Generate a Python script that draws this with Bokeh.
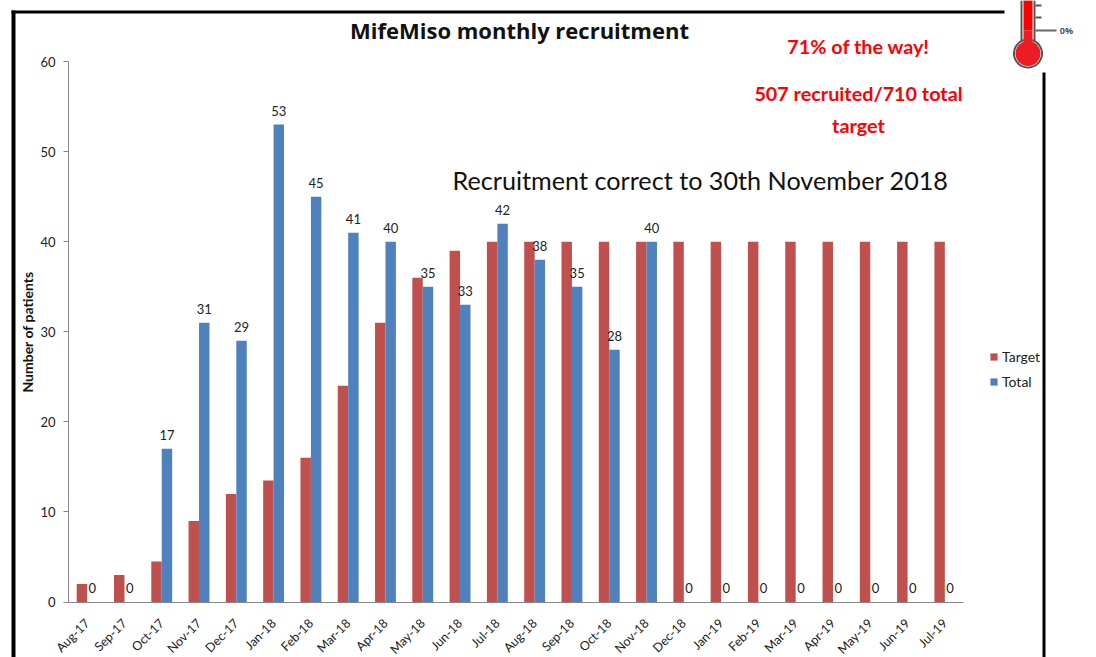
import numpy as np
from bokeh.plotting import figure
from bokeh.embed import file_html
from bokeh.resources import INLINE
from bokeh.models import (ColumnDataSource, Label, BoxAnnotation, PolyAnnotation, Legend, LegendItem,
                          LinearAxis, FixedTicker, Range1d)
from bokeh.core.properties import value

months = ["Aug-17","Sep-17","Oct-17","Nov-17","Dec-17","Jan-18","Feb-18","Mar-18","Apr-18","May-18","Jun-18","Jul-18",
          "Aug-18","Sep-18","Oct-18","Nov-18","Dec-18","Jan-19","Feb-19","Mar-19","Apr-19","May-19","Jun-19","Jul-19"]
target = [2,3,4.5,9,12,13.5,16,24,31,36,39,40,40,40,40,40,40,40,40,40,40,40,40,40]
total = [0,0,17,31,29,53,45,41,40,35,33,42,38,35,28,40,0,0,0,0,0,0,0,0]
y_ticks = [0, 10, 20, 30, 40, 50, 60]

W, H = 1096, 657
AX_L, AX_R, AX_T, AX_B = 68.0, 963.0, 61.0, 601.5
xs = (AX_R - AX_L) / len(months)
ys = (AX_B - AX_T) / 60.0
x_start = -AX_L / xs - 0.5
x_end = (W - AX_L) / xs - 0.5
y_start = (AX_B - H) / ys
y_end = AX_B / ys

idx = list(range(len(months)))
w = 0.28
src = ColumnDataSource(dict(x1=[i - w/2 for i in idx], x2=[i + w/2 for i in idx], target=target, total=total,
                            lab=[str(v) for v in total]))

p = figure(width=W, height=H, output_backend="svg", toolbar_location=None,
           x_range=Range1d(x_start, x_end), y_range=Range1d(y_start, y_end),
           x_axis_location=None, y_axis_location=None,
           min_border=0, outline_line_color=None, background_fill_color="white")
p.xgrid.visible = False
p.ygrid.visible = False

r1 = p.vbar(x="x1", top="target", width=w, source=src, color="#C0504D", line_color=None)
r2 = p.vbar(x="x2", top="total", width=w, source=src, color="#4F81BD", line_color=None)
p.text(x="x2", y="total", text="lab", source=src, y_offset=-9,
       text_align="center", text_baseline="bottom", text_font=value("Lato"), text_font_size="13px", text_color="#222222")

ax = LinearAxis(fixed_location=0, ticker=FixedTicker(ticks=idx),
                major_label_overrides={i: m for i, m in enumerate(months)},
                bounds=(-0.5, len(months) - 0.5))
ax.major_tick_line_color = None
ax.minor_tick_line_color = None
ax.axis_line_color = "#868686"
ax.major_label_orientation = np.pi / 4
ax.major_label_text_font = "Lato"
ax.major_label_text_font_size = "12.5px"
ax.major_label_text_color = "#222222"
ax.major_label_standoff = 13
p.add_layout(ax, "below")

ay = LinearAxis(fixed_location=-0.5, ticker=FixedTicker(ticks=y_ticks), bounds=(0, 60))
ay.axis_line_color = "#868686"
ay.major_tick_line_color = "#868686"
ay.major_tick_out = 5
ay.major_tick_in = 0
ay.minor_tick_line_color = None
ay.major_label_text_font = "Lato"
ay.major_label_text_font_size = "13px"
ay.major_label_text_color = "#222222"
ay.major_label_standoff = 8
ay.axis_label = "Number of patients"
ay.axis_label_text_font = "Lato"
ay.axis_label_text_font_size = "14px"
ay.axis_label_text_font_style = "bold"
ay.axis_label_text_color = "#111111"
ay.axis_label_standoff = 1
p.add_layout(ay, "left")

legend = Legend(items=[LegendItem(label="Target", renderers=[r1]), LegendItem(label="Total", renderers=[r2])],
                location=(989, H - 390), border_line_color=None, background_fill_alpha=0,
                glyph_width=9, glyph_height=9, spacing=8, padding=0, margin=0, label_standoff=4,
                label_text_font="Lato", label_text_font_size="14px", label_text_color="#222222")
p.add_layout(legend, "center")

def sbox(l, t, r, b, color):
    p.add_layout(BoxAnnotation(left=l, right=r, top=H-t, bottom=H-b,
                               left_units="screen", right_units="screen", top_units="screen", bottom_units="screen",
                               fill_color=color, fill_alpha=1, line_color=None, level="overlay", editable=False))

def stext(x, y, s, size, color, font="Lato", style="normal", align="center"):
    p.add_layout(Label(x=x, y=H-y, x_units="screen", y_units="screen", text=s, text_font=font,
                       text_font_size=size, text_font_style=style, text_color=color,
                       text_align=align, text_baseline="middle"))

sbox(11, 10, 15, 657, "black")
sbox(11, 10, 1004, 13, "black")
sbox(1042, 72, 1045, 657, "black")

stext(519, 29.5, "MifeMiso monthly recruitment", "22px", "#111111", font="Open Sans", style="bold")
stext(858, 45.5, "71% of the way!", "19.8px", "#FF0000", style="bold")
stext(858, 92.5, "507 recruited/710 total", "19.8px", "#FF0000", style="bold")
stext(858, 124, "target", "19.8px", "#FF0000", style="bold")
stext(700, 179, "Recruitment correct to 30th November 2018", "25.2px", "#111111")

# thermometer
def circle(cx, cy, r, color):
    t = np.linspace(0, 2*np.pi, 60)
    p.add_layout(PolyAnnotation(xs=list(cx + r*np.cos(t)), ys=list(H - cy + r*np.sin(t)),
                                xs_units="screen", ys_units="screen", fill_color=color, fill_alpha=1,
                                line_color=None, level="overlay", editable=False))
sbox(1035, 4, 1041, 6, "#555555")
sbox(1035, 16, 1041, 18, "#555555")
sbox(1035, 29, 1056, 31, "#666666")
sbox(1020, 0, 1035, 50, "#555555")
sbox(1022, 0, 1033, 50, "#FFFFFF")
circle(1027.5, 53, 15, "#555555")
circle(1027.5, 53, 13, "#FFFFFF")
circle(1027.5, 53, 12.5, "#ED1C24")
sbox(1023, 30, 1032, 50, "#ED1C24")
sbox(1023, 0, 1032, 30, "#FF0000")
stext(1066, 30, "0%", "9px", "#44546A", font="Open Sans", style="bold")

open("out.html", "w").write(file_html(p, INLINE))
